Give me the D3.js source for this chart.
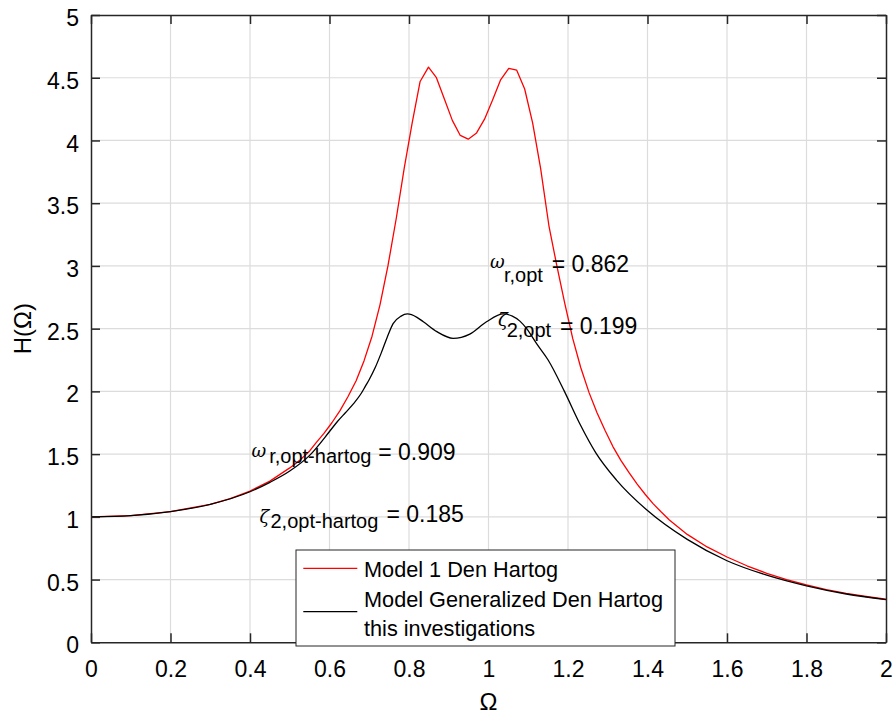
<!DOCTYPE html>
<html>
<head>
<meta charset="utf-8">
<script src="https://cdn.jsdelivr.net/npm/d3@7"></script>
<style>
  html, body { margin: 0; padding: 0; background: #fff; }
  svg { display: block; }
  text { font-family: "Liberation Sans", Arial, Helvetica, sans-serif; fill: #000; }
</style>
</head>
<body>
<script>
// ---------------- data ----------------
const omegaRed = [0, 0.1, 0.2, 0.3, 0.35, 0.4, 0.45, 0.5, 0.525, 0.55, 0.566, 0.586,
  0.606, 0.626, 0.646, 0.667, 0.687, 0.707, 0.727, 0.747, 0.768,
  0.788, 0.808, 0.828, 0.849, 0.869, 0.889, 0.909, 0.929, 0.949, 0.970, 0.990, 1.010, 1.030,
  1.051, 1.071, 1.091, 1.111, 1.131, 1.152, 1.172, 1.192, 1.212, 1.232, 1.253, 1.273, 1.293,
  1.313, 1.333, 1.354, 1.374, 1.394, 1.414, 1.434, 1.455, 1.5, 1.55, 1.6, 1.65, 1.7, 1.75,
  1.8, 1.85, 1.9, 1.95, 2.0];
const hRed = [1.000, 1.010, 1.042, 1.100, 1.145, 1.205, 1.285, 1.390, 1.450, 1.525, 1.590, 1.665,
  1.750, 1.845, 1.955, 2.085, 2.245, 2.440, 2.690, 3.000, 3.380,
  3.780, 4.140, 4.470, 4.585, 4.500, 4.330, 4.160, 4.040, 4.010, 4.060, 4.170, 4.320, 4.480,
  4.575, 4.560, 4.410, 4.140, 3.780, 3.320, 3.000, 2.700, 2.420, 2.190, 1.990, 1.830, 1.690,
  1.560, 1.450, 1.350, 1.260, 1.180, 1.105, 1.040, 0.975, 0.860, 0.760, 0.680, 0.610, 0.550,
  0.500, 0.457, 0.420, 0.390, 0.365, 0.343];

const omegaBlack = [0, 0.1, 0.2, 0.3, 0.4, 0.45, 0.5, 0.55, 0.6, 0.62, 0.64, 0.66, 0.68,
  0.69, 0.70, 0.715, 0.73, 0.745, 0.76, 0.78, 0.796, 0.82, 0.836, 0.87, 0.911, 0.953,
  0.995, 1.037, 1.06, 1.079, 1.096, 1.121, 1.15, 1.191, 1.23, 1.27, 1.322, 1.4, 1.5, 1.6, 1.7,
  1.8, 1.9, 2.0];
const hBlack = [1.000, 1.010, 1.042, 1.100, 1.200, 1.275, 1.365, 1.490, 1.680, 1.760, 1.830,
  1.900, 1.985, 2.040, 2.095, 2.190, 2.305, 2.430, 2.540, 2.600, 2.617, 2.590, 2.555, 2.476,
  2.423, 2.457, 2.555, 2.617, 2.600, 2.560, 2.500, 2.380, 2.250, 2.000, 1.740, 1.510, 1.293,
  1.050, 0.820, 0.650, 0.535, 0.450, 0.385, 0.340];

const xTicks = [0, 0.2, 0.4, 0.6, 0.8, 1, 1.2, 1.4, 1.6, 1.8, 2];
const yTicks = [0, 0.5, 1, 1.5, 2, 2.5, 3, 3.5, 4, 4.5, 5];
const xTickLabels = ["0", "0.2", "0.4", "0.6", "0.8", "1", "1.2", "1.4", "1.6", "1.8", "2"];
const yTickLabels = ["0", "0.5", "1", "1.5", "2", "2.5", "3", "3.5", "4", "4.5", "5"];

const seriesNames = ["Model 1 Den Hartog", "Model Generalized Den Hartog", "this investigations"];
const seriesColors = ["#ff0000", "#000000"];

// annotations: anchor in data units
const annotations = [
  { sym: "ω", sub: "r,opt", val: "= 0.862", ax: 1.0, ay: 3.0 },
  { sym: "ζ", sub: "2,opt", val: "= 0.199", ax: 1.0, ay: 2.5 },
  { sym: "ω", sub: "r,opt-hartog", val: "= 0.909", ax: 0.4, ay: 1.5 },
  { sym: "ζ", sub: "2,opt-hartog", val: "= 0.185", ax: 0.4, ay: 1.0 }
];

// ---------------- layout ----------------
const W = 893, H = 718;
const M = { left: 91, right: 7, top: 15, bottom: 75.7 };
const iw = W - M.left - M.right, ih = H - M.top - M.bottom;

const svg = d3.select("body").append("svg").attr("width", W).attr("height", H);

const x = d3.scaleLinear().domain([0, 2]).range([M.left, M.left + iw]);
const y = d3.scaleLinear().domain([0, 5]).range([M.top + ih, M.top]);

const axisColor = "#262626";
const gridColor = "#dcdcdc";

// grid
const grid = svg.append("g");
grid.selectAll("line.gx").data(xTicks.slice(1, -1)).join("line")
  .attr("x1", d => x(d)).attr("x2", d => x(d))
  .attr("y1", y(0)).attr("y2", y(5))
  .attr("stroke", gridColor).attr("stroke-width", 1.2);
grid.selectAll("line.gy").data(yTicks.slice(1, -1)).join("line")
  .attr("x1", x(0)).attr("x2", x(2))
  .attr("y1", d => y(d)).attr("y2", d => y(d))
  .attr("stroke", gridColor).attr("stroke-width", 1.2);

// clip
svg.append("clipPath").attr("id", "clip").append("rect")
  .attr("x", x(0)).attr("y", y(5)).attr("width", x(2) - x(0)).attr("height", y(0) - y(5));

const line = d3.line().x(d => x(d[0])).y(d => y(d[1]));
const redData = omegaRed.map((o, i) => [o, hRed[i]]);
const blackData = omegaBlack.map((o, i) => [o, hBlack[i]]);
const blackLine = d3.line().curve(d3.curveMonotoneX).x(d => x(d[0])).y(d => y(d[1]));

const plot = svg.append("g").attr("clip-path", "url(#clip)");
plot.append("path").datum(redData).attr("d", line)
  .attr("fill", "none").attr("stroke", seriesColors[0]).attr("stroke-width", 1.3)
  .attr("stroke-linejoin", "round");
plot.append("path").datum(blackData).attr("d", blackLine)
  .attr("fill", "none").attr("stroke", seriesColors[1]).attr("stroke-width", 1.3)
  .attr("stroke-linejoin", "round");

// axes (box with ticks inward on all sides)
const tickLen = 9;
const axB = svg.append("g").attr("transform", `translate(0,${y(0)})`)
  .call(d3.axisBottom(x).tickValues(xTicks).tickSizeInner(-tickLen).tickSizeOuter(0)
    .tickFormat((d, i) => xTickLabels[i]).tickPadding(20));
const axT = svg.append("g").attr("transform", `translate(0,${y(5)})`)
  .call(d3.axisTop(x).tickValues(xTicks).tickSizeInner(-tickLen).tickSizeOuter(0).tickFormat(""));
const axL = svg.append("g").attr("transform", `translate(${x(0)},0)`)
  .call(d3.axisLeft(y).tickValues(yTicks).tickSizeInner(-tickLen).tickSizeOuter(0)
    .tickFormat((d, i) => yTickLabels[i]).tickPadding(20));
const axR = svg.append("g").attr("transform", `translate(${x(2)},0)`)
  .call(d3.axisRight(y).tickValues(yTicks).tickSizeInner(-tickLen).tickSizeOuter(0).tickFormat(""));

[axB, axT, axL, axR].forEach(a => {
  a.select(".domain").attr("stroke", axisColor).attr("stroke-width", 1.5);
  a.selectAll(".tick line").attr("stroke", axisColor).attr("stroke-width", 1.5);
  a.selectAll(".tick text").attr("fill", "#262626")
    .style("font-family", '"Liberation Sans", Arial, sans-serif').style("font-size", "23px");
});
axB.selectAll(".tick text").attr("dy", null).attr("y", 35.2).attr("dominant-baseline", "auto");
axL.selectAll(".tick text").attr("dy", null).attr("x", -12).attr("y", 10.6);

// axis labels
svg.append("text").attr("x", x(1)).attr("y", 710).attr("text-anchor", "middle")
  .style("font-size", "24px").attr("fill", "#262626").text("Ω");
svg.append("text").attr("transform", `translate(31,${(y(0) + y(5)) / 2}) rotate(-90)`)
  .attr("text-anchor", "middle").style("font-size", "24px").attr("fill", "#262626").text("H(Ω)");

// annotations
const ann = svg.append("g");
const layout = [
  { symDx: 0, symDy: 2.5, subDx: 14, subDy: 15.8, valDx: 61.7, valDy: 5.8 },
  { symDx: 8, symDy: -2.6, subDx: 16.7, subDy: 8.1, valDx: 70, valDy: 5.7 },
  { symDx: 0, symDy: 2.6, subDx: 17.7, subDy: 9.2, valDx: 126.7, valDy: 5.9 },
  { symDx: 8, symDy: 6.5, subDx: 19, subDy: 11.2, valDx: 135, valDy: 4.9 }
];
annotations.forEach((a, i) => {
  const L = layout[i];
  const ax0 = x(a.ax) + 1.5, ay0 = y(a.ay);
  ann.append("text").attr("x", ax0 + L.symDx).attr("y", ay0 + L.symDy)
    .style("font-family", '"DejaVu Serif", "Liberation Serif", serif')
    .style("font-style", "italic").style("font-size", "18px").text(a.sym);
  ann.append("text").attr("x", ax0 + L.subDx).attr("y", ay0 + L.subDy)
    .style("font-size", "20px").text(a.sub);
  ann.append("text").attr("x", ax0 + L.valDx).attr("y", ay0 + L.valDy)
    .style("font-size", "23px").text(a.val);
});

// legend
const lg = svg.append("g");
const lgX = 296, lgY = 550, lgW = 379, lgH = 96;
lg.append("rect").attr("x", lgX).attr("y", lgY).attr("width", lgW).attr("height", lgH)
  .attr("fill", "#fff").attr("stroke", axisColor).attr("stroke-width", 1);
lg.append("line").attr("x1", lgX + 7.3).attr("x2", lgX + 61.3)
  .attr("y1", lgY + 18.3).attr("y2", lgY + 18.3)
  .attr("stroke", seriesColors[0]).attr("stroke-width", 1.3);
lg.append("text").attr("x", lgX + 68).attr("y", lgY + 26.7)
  .style("font-size", "21.7px").text(seriesNames[0]);
lg.append("line").attr("x1", lgX + 7.3).attr("x2", lgX + 61.3)
  .attr("y1", lgY + 61.7).attr("y2", lgY + 61.7)
  .attr("stroke", seriesColors[1]).attr("stroke-width", 1.3);
lg.append("text").attr("x", lgX + 68).attr("y", lgY + 56.7)
  .style("font-size", "21.7px").text(seriesNames[1]);
lg.append("text").attr("x", lgX + 68).attr("y", lgY + 86)
  .style("font-size", "21.7px").text(seriesNames[2]);
</script>
</body>
</html>
